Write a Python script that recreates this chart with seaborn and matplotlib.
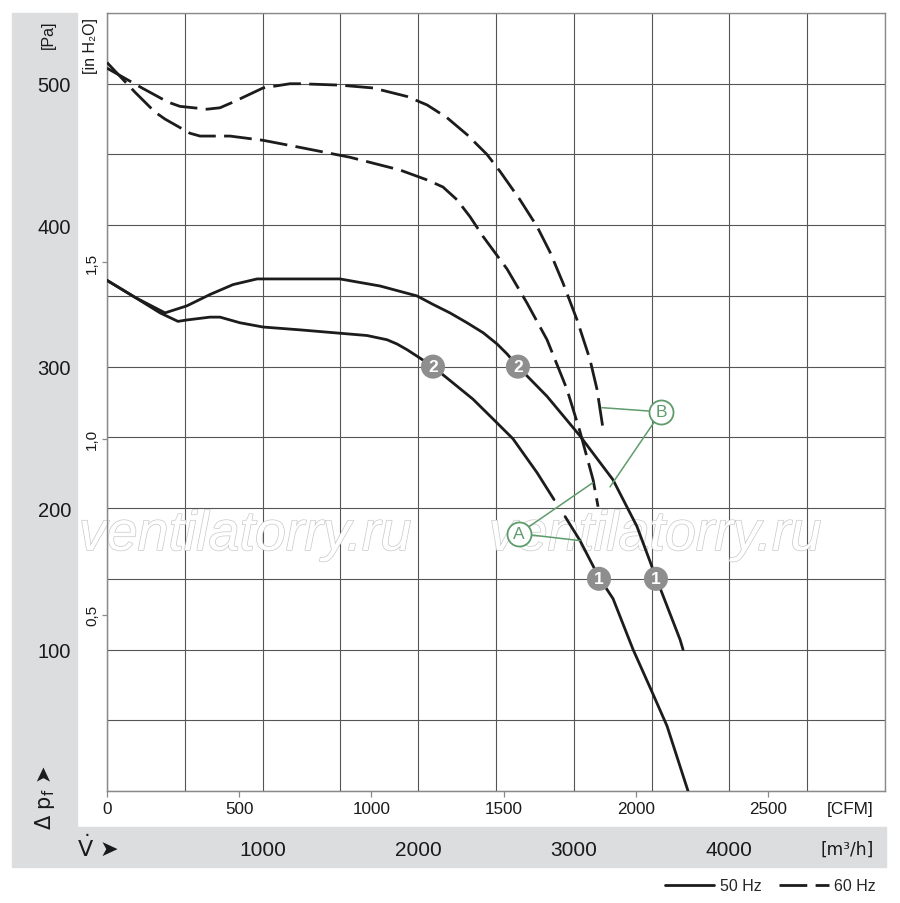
import numpy as np
import pandas as pd
import matplotlib
matplotlib.use("Agg")
import matplotlib.pyplot as plt
import seaborn as sns
from matplotlib.lines import Line2D
from matplotlib.patches import Rectangle
import matplotlib.patheffects as pe

# ---------------- data (x in m3/h, y in Pa) ----------------
u60_x = [0, 225, 392, 469, 643, 726, 810, 1003, 1176, 1240, 1497, 1710, 1928, 2057, 2185, 2314, 2442, 2526,
         2654, 2764, 2847, 2931, 3021, 3104, 3149, 3188]
u60_y = [511, 497, 487, 484, 482, 483, 487, 497, 500, 500, 499, 497, 491, 485, 476, 464, 450, 438,
         418, 399, 381, 359, 333, 305, 284, 256]

l60_x = [0, 180, 308, 373, 533, 598, 790, 1003, 1240, 1562, 1883, 2057, 2159, 2249, 2333, 2417, 2571, 2699,
         2828, 2956, 3040, 3124, 3156]
l60_y = [515, 494, 480, 475, 465, 463, 463, 460, 455, 448, 439, 432, 427, 418, 406, 392, 369, 345,
         319, 284, 254, 220, 201]

u50_x = [0, 180, 373, 514, 662, 810, 964, 1240, 1497, 1755, 1992, 2095, 2204, 2314, 2417, 2507, 2571, 2641,
         2828, 3040, 3252, 3406, 3528, 3683, 3702]
u50_y = [361, 349, 338, 343, 351, 358, 362, 362, 362, 357, 350, 344, 338, 331, 324, 316, 309, 300,
         279, 251, 220, 187, 151, 107, 100]

l50a_x = [0, 180, 341, 456, 514, 662, 726, 855, 1003, 1240, 1671, 1800, 1864, 1928, 2012, 2095, 2352, 2481,
          2609, 2764, 2873]
l50a_y = [361, 349, 338, 332, 333, 335, 335, 331, 328, 326, 322, 319, 316, 312, 306, 300, 277, 263,
          249, 225, 206]
l50b_x = [2944, 3040, 3162, 3252, 3381, 3503, 3599, 3734]
l50b_y = [194, 177, 151, 136, 100, 70, 46, 0]

badge_x = [2095, 2641, 3162, 3528]
badge_y = [300, 300, 150, 150]
badge_lbl = ["2", "2", "1", "1"]

call_lbl = ["A", "B"]
call_x = [2648, 3561]
call_y = [182, 268]
call_tx = [[3040, 3123], [3181, 3233]]
call_ty = [[177, 218], [271, 215]]

pa_ticks = [100, 200, 300, 400, 500]
inh2o_ticks = [0.5, 1.0, 1.5]
inh2o_lbl = ["0,5", "1,0", "1,5"]
cfm_ticks = [0, 500, 1000, 1500, 2000, 2500]
m3h_ticks = [1000, 2000, 3000, 4000]

# ---------------- frame ----------------
segs = []
for name, xs, ys, fr in [("u60", u60_x, u60_y, "60 Hz"), ("l60", l60_x, l60_y, "60 Hz"),
                         ("u50", u50_x, u50_y, "50 Hz"), ("l50a", l50a_x, l50a_y, "50 Hz"),
                         ("l50b", l50b_x, l50b_y, "50 Hz")]:
    segs.append(pd.DataFrame({"x": xs, "y": ys, "seg": name, "freq": fr}))
df = pd.concat(segs, ignore_index=True)

sns.set_style("white")
plt.rcParams["font.family"] = ["Liberation Sans Narrow", "Liberation Sans", "DejaVu Sans"]
plt.rcParams["mathtext.fontset"] = "dejavusans"

W, H = 900, 904
fig = plt.figure(figsize=(W / 100, H / 100), dpi=100)
fig.patch.set_facecolor("white")

band = "#dcdddf"
fig.patches.append(Rectangle((12 / W, 1 - 828 / H), 65 / W, (828 - 14) / H,
                             transform=fig.transFigure, color=band, zorder=-5))
fig.patches.append(Rectangle((12 / W, 1 - 868 / H), (886 - 12) / W, (868 - 828) / H,
                             transform=fig.transFigure, color=band, zorder=-5))

ax = fig.add_axes([107 / W, 1 - 792 / H, 778 / W, 778 / H])
ax.set_facecolor("white")
ax.set_xlim(0, 5000)
ax.set_ylim(0, 550)
ax.set_axisbelow(True)

INK = "#1c1c1c"
sns.lineplot(data=df, x="x", y="y", units="seg", style="freq", estimator=None, sort=False,
             dashes={"50 Hz": "", "60 Hz": (10, 3)}, color=INK, lw=2.0, legend=False, ax=ax,
             zorder=3)
ax.set_xlabel("")
ax.set_ylabel("")

# grid
ax.set_xticks(np.arange(0, 5001, 500), minor=True)
ax.set_yticks(np.arange(0, 551, 50), minor=True)
ax.set_xticks(m3h_ticks)
ax.set_xticklabels([str(v) for v in m3h_ticks])
ax.set_yticks(pa_ticks)
ax.set_yticklabels([str(v) for v in pa_ticks])
ax.grid(which="both", color="#555555", lw=0.8)
ax.tick_params(axis="x", which="both", length=0, pad=35, labelsize=15, labelcolor="#1a1a1a")
ax.tick_params(axis="y", which="both", length=0, pad=26, labelsize=14.5, labelcolor="#1a1a1a")
for s in ax.spines.values():
    s.set_color("#8a8a8a")
    s.set_linewidth(1.0)

# CFM secondary axis
CF = 1.699
sx = ax.secondary_xaxis("bottom", functions=(lambda x: x / CF, lambda c: c * CF))
sx.set_xticks(cfm_ticks)
sx.set_xticklabels([str(v) for v in cfm_ticks])
sx.tick_params(length=4.3, width=0.9, color="#8a8a8a", pad=3, labelsize=12.3, labelcolor="#1a1a1a")
sx.spines["bottom"].set_color("#8a8a8a")

# in H2O secondary axis
PA = 249.09
sy = ax.secondary_yaxis("left", functions=(lambda p: p / PA, lambda i: i * PA))
sy.set_yticks(inh2o_ticks)
sy.set_yticklabels(inh2o_lbl, rotation=90, va="center")
sy.tick_params(length=3.6, width=0.9, color="#8a8a8a", pad=2, labelsize=11, labelcolor="#1a1a1a")
sy.spines["left"].set_color("#8a8a8a")

# badges
sns.scatterplot(x=badge_x, y=badge_y, s=300, color="#8e8e8e", edgecolor="none", zorder=5, ax=ax,
                legend=False)
for bx, by, bl in zip(badge_x, badge_y, badge_lbl):
    ax.text(bx, by, bl, ha="center", va="center", color="white", fontsize=12.5,
            fontweight="bold", zorder=6, family=["Liberation Sans", "DejaVu Sans"])

# callouts
GREEN = "#5e9c6c"
for lbl, cx, cy, txs, tys in zip(call_lbl, call_x, call_y, call_tx, call_ty):
    for tx, ty in zip(txs, tys):
        ax.plot([cx, tx], [cy, ty], color=GREEN, lw=1.1, zorder=4)
sns.scatterplot(x=call_x, y=call_y, s=300, facecolor="white", edgecolor=GREEN, linewidth=1.3,
                zorder=5, ax=ax, legend=False)
for lbl, cx, cy in zip(call_lbl, call_x, call_y):
    ax.text(cx, cy, lbl, ha="center", va="center", color=GREEN, fontsize=12.5, zorder=6)

# watermark
for xc in (245, 655):
    ax.text(xc / W, 1 - 551 / H, "ventilatorry.ru", transform=fig.transFigure, ha="center",
            va="baseline", fontsize=40, style="italic", color="white", zorder=1.8,
            family=["Liberation Sans", "DejaVu Sans"],
            path_effects=[pe.Stroke(linewidth=1.0, foreground="#c8c8c8"), pe.Normal()])

# axis captions
fig.text(48 / W, 1 - 35 / H, "[Pa]", rotation=90, ha="center", va="center", fontsize=11.5, color="#1a1a1a")
fig.text(91 / W, 1 - 46 / H, "[in H\u2082O]", rotation=90, ha="center", va="center", fontsize=11.5,
         color="#1a1a1a")
fig.text(45 / W, 1 - 797 / H, r"$\Delta$ p$_\mathrm{f}$ " + "\u27a4", rotation=90,
         ha="center", va="center", fontsize=15, color="#1a1a1a",
         family=["Liberation Sans Narrow", "DejaVu Sans"])
fig.text(77 / W, 1 - 848 / H, r"$\dot{\mathrm{V}}$ " + "\u27a4", ha="left", va="center", fontsize=16,
         color="#1a1a1a", family=["Liberation Sans Narrow", "DejaVu Sans"])
fig.text(874 / W, 1 - 810 / H, "[CFM]", ha="right", va="center", fontsize=12.3, color="#1a1a1a")
fig.text(874 / W, 1 - 850 / H, "[m\u00b3/h]", ha="right", va="center", fontsize=12.3, color="#1a1a1a",
         family=["Liberation Sans Narrow", "DejaVu Sans"])

# legend
handles = [Line2D([], [], color=INK, lw=2.0),
           Line2D([], [], color=INK, lw=2.0, dashes=(10, 3))]
fig.legend(handles, ["50 Hz", "60 Hz"], ncol=2, loc="center right",
           bbox_to_anchor=(876 / W, 1 - 887 / H), frameon=False, fontsize=11.5,
           handlelength=3.1, handletextpad=0.35, columnspacing=1.1, borderpad=0, borderaxespad=0)

fig.savefig("out.png", dpi=100)
